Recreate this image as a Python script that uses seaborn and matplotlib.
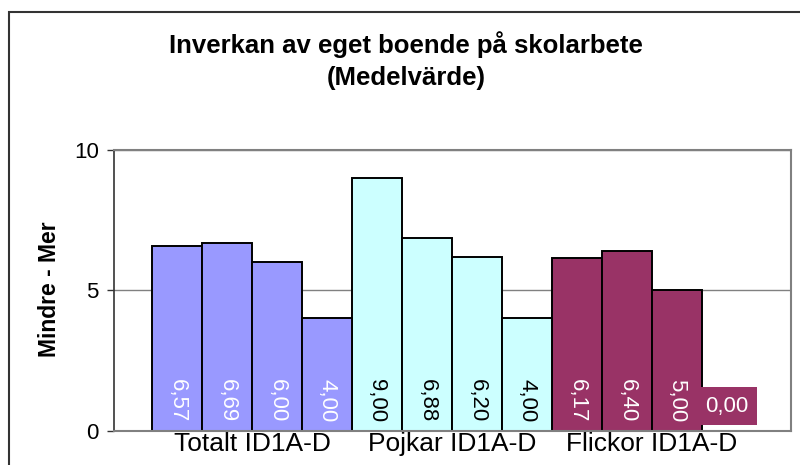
import matplotlib
matplotlib.use("Agg")
import matplotlib.pyplot as plt
from matplotlib.patches import Rectangle
import seaborn as sns
import pandas as pd

# Data
grupper = ["Totalt ID1A-D", "Pojkar ID1A-D", "Flickor ID1A-D"]
klasser = ["ID1A", "ID1B", "ID1C", "ID1D"]
totalt = [6.57, 6.69, 6.00, 4.00]
pojkar = [9.00, 6.88, 6.20, 4.00]
flickor = [6.17, 6.40, 5.00, 0.00]
yticks = [0, 5, 10]

farger = ["#9999FF", "#CCFFFF", "#993366"]
textfarger = ["white", "black", "white"]

sns.set_style("white")
plt.rcParams['font.family'] = ['Liberation Sans', 'DejaVu Sans']
plt.rcParams['text.color'] = 'black'
plt.rcParams['axes.labelcolor'] = 'black'
plt.rcParams['xtick.color'] = 'black'
plt.rcParams['ytick.color'] = 'black'

rows = []
for grupp, vals in zip(grupper, [totalt, pojkar, flickor]):
    for klass, v in zip(klasser, vals):
        rows.append({"grupp": grupp, "klass": klass, "medel": v})
df = pd.DataFrame(rows)

fig = plt.figure(figsize=(8, 4.65), dpi=100)
ax = fig.add_axes([114 / 800, 1 - 430.7 / 465, 677 / 800, 280.7 / 465])

sns.barplot(data=df, x="grupp", y="medel", hue="klass", order=grupper,
            hue_order=klasser, dodge=True, width=1, gap=0, errorbar=None,
            legend=False, edgecolor="black", linewidth=1.4, ax=ax)

# colour per group, labels at the bottom of each bar
for p in ax.patches:
    xc = p.get_x() + p.get_width() / 2
    g = int(round(xc))
    h = p.get_height()
    p.set_facecolor(farger[g])
    txt = f"{h:.2f}".replace(".", ",")
    if h == 0:
        p.set_linewidth(0)
        ax.annotate(txt, xy=(xc, 0), xytext=(0, 17.5), textcoords="offset points",
                    ha="center", va="center", fontsize=16, color="white",
                    bbox=dict(boxstyle="square,pad=0.38", fc=farger[g], ec="none"))
    else:
        ax.annotate(txt, xy=(xc, 0), xytext=(0, 6), textcoords="offset points",
                    ha="center", va="bottom", rotation=-90, fontsize=16,
                    color=textfarger[g])

ax.set_xlim(-0.69, 2.695)
ax.set_ylim(0, 10)
ax.set_yticks(yticks)
ax.set_yticklabels([str(t) for t in yticks])
ax.set_xlabel("")
ax.set_ylabel("Mindre - Mer", fontsize=16.5, fontweight="bold")
ax.yaxis.set_label_coords(-0.078, 0.505)

ax.yaxis.grid(True, color="#808080", linewidth=1)
ax.set_axisbelow(True)
ax.tick_params(axis="y", left=True, length=5, width=1, color="#333333",
               labelsize=16, pad=6)
ax.tick_params(axis="x", length=0, labelsize=19, pad=1)

for side in ["top", "right", "bottom"]:
    ax.spines[side].set_color("#808080")
    ax.spines[side].set_linewidth(1.5)
ax.spines["left"].set_color("#333333")
ax.spines["left"].set_linewidth(1.2)

fig.suptitle("Inverkan av eget boende på skolarbete\n(Medelvärde)",
             x=0.508, y=1 - 31 / 465, fontsize=18.5, fontweight="bold",
             va="top", linespacing=1.45)

# outer chart frame (runs off the right and bottom edge)
fig.patches.append(Rectangle((9 / 800, -0.2), 1.5, 0.2 + 1 - 12 / 465,
                             transform=fig.transFigure, fill=False,
                             edgecolor="#333333", linewidth=1.5))

fig.savefig("out.png", dpi=100)
